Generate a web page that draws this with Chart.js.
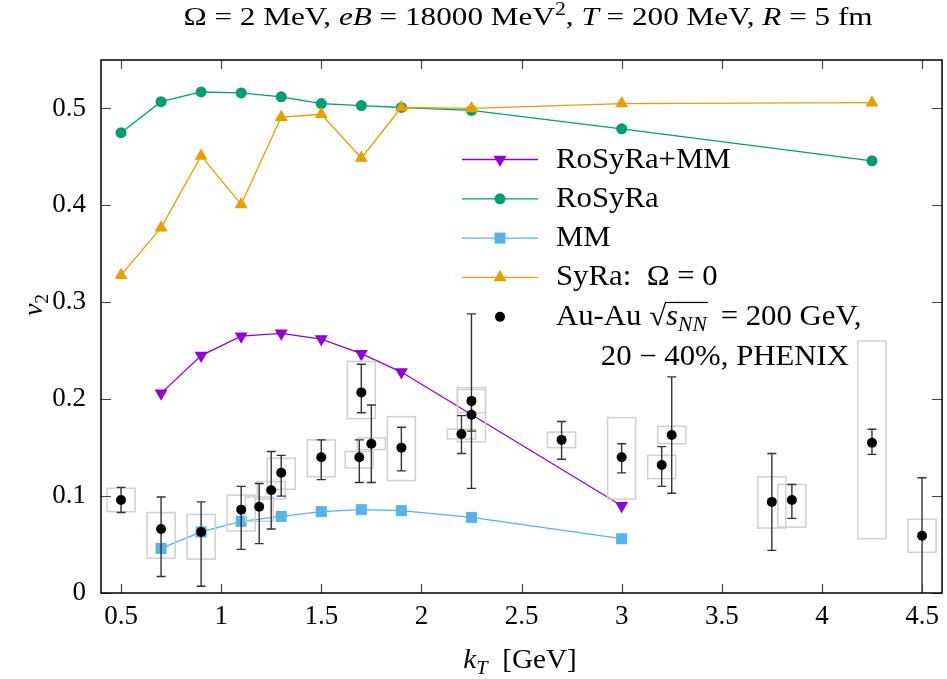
<!DOCTYPE html>
<html>
<head>
<meta charset="utf-8">
<script src="https://cdn.jsdelivr.net/npm/chart.js@4"></script>
<style>
  html, body { margin: 0; padding: 0; background: #fff; }
  #wrap { width: 947px; height: 679px; }
</style>
</head>
<body>
<div id="wrap"><canvas id="v2Chart" width="947" height="679"></canvas></div>
<script>
// model curves (kT in GeV)
const rosyraMmX = [0.7, 0.9, 1.1, 1.3, 1.5, 1.7, 1.9, 3.0];
const rosyraMmV2 = [0.206, 0.245, 0.265, 0.268, 0.262, 0.247, 0.228, 0.090];

const rosyraX = [0.5, 0.7, 0.9, 1.1, 1.3, 1.5, 1.7, 1.9, 2.25, 3.0, 4.25];
const rosyraV2 = [0.475, 0.507, 0.517, 0.516, 0.512, 0.505, 0.503, 0.501, 0.498, 0.479, 0.446];

const mmX = [0.7, 0.9, 1.1, 1.3, 1.5, 1.7, 1.9, 2.25, 3.0];
const mmV2 = [0.046, 0.063, 0.074, 0.079, 0.084, 0.086, 0.085, 0.078, 0.056];

const syraX = [0.5, 0.7, 0.9, 1.1, 1.3, 1.5, 1.7, 1.9, 2.25, 3.0, 4.25];
const syraV2 = [0.328, 0.377, 0.451, 0.401, 0.491, 0.494, 0.449, 0.501, 0.500, 0.505, 0.506];

// PHENIX Au-Au 20-40% data: value, stat error bounds, systematic bounds
const phenixX    = [0.5, 0.7, 0.9, 1.1, 1.19, 1.25, 1.3, 1.5, 1.69, 1.7, 1.75, 1.9, 2.2, 2.25, 2.25, 2.7, 3.0, 3.2, 3.25, 3.75, 3.85, 4.25, 4.5];
const phenixV2   = [0.096, 0.066, 0.063, 0.086, 0.089, 0.106, 0.124, 0.140, 0.140, 0.207, 0.154, 0.150, 0.164, 0.198, 0.184, 0.158, 0.140, 0.132, 0.163, 0.094, 0.096, 0.155, 0.059];
const phenixStatLo = [0.083, 0.017, 0.007, 0.045, 0.051, 0.066, 0.100, 0.117, 0.114, 0.186, 0.114, 0.126, 0.144, 0.108, 0.167, 0.138, 0.124, 0.110, 0.103, 0.044, 0.077, 0.143, -0.001];
const phenixStatHi = [0.109, 0.099, 0.094, 0.110, 0.113, 0.146, 0.142, 0.158, 0.158, 0.236, 0.194, 0.171, 0.183, 0.288, 0.201, 0.177, 0.154, 0.151, 0.223, 0.144, 0.112, 0.169, 0.119];
const phenixSysLo = [0.084, 0.036, 0.035, 0.064, 0.074, 0.097, 0.107, 0.120, 0.129, 0.180, 0.148, 0.116, 0.159, 0.186, 0.156, 0.150, 0.097, 0.118, 0.154, 0.067, 0.068, 0.056, 0.042];
const phenixSysHi = [0.108, 0.083, 0.081, 0.101, 0.099, 0.115, 0.139, 0.158, 0.146, 0.239, 0.160, 0.182, 0.169, 0.212, 0.210, 0.166, 0.181, 0.142, 0.172, 0.120, 0.112, 0.260, 0.076];
const sysHalfWidth = 0.07; // kT half width of the systematic boxes

const xTicks = [0.5, 1, 1.5, 2, 2.5, 3, 3.5, 4, 4.5];
const xTickLabels = ['0.5', '1', '1.5', '2', '2.5', '3', '3.5', '4', '4.5'];
const yTicks = [0, 0.1, 0.2, 0.3, 0.4, 0.5];
const yTickLabels = ['0', '0.1', '0.2', '0.3', '0.4', '0.5'];

const SERIF = '"Liberation Serif", "DejaVu Serif", serif';

function pts(xs, ys) {
  return xs.map((x, i) => ({ x: x, y: ys[i] }));
}

// draw text made of runs: {t, it, sub, sup, over}; stretch widens it like the TeX font
function richWidth(ctx, runs, size) {
  let w = 0;
  runs.forEach(r => {
    const s = (r.sub || r.sup) ? size * 0.7 : size;
    ctx.font = (r.it ? 'italic ' : '') + s + 'px ' + SERIF;
    w += ctx.measureText(r.t).width;
  });
  return w;
}
function drawRich(ctx, runs, x, y, size, align, stretch) {
  stretch = stretch || 1;
  const w = richWidth(ctx, runs, size) * stretch;
  const x0 = align === 'center' ? x - w / 2 : (align === 'right' ? x - w : x);
  ctx.save();
  ctx.translate(x0, y);
  ctx.scale(stretch, 1);
  let cx = 0;
  ctx.textAlign = 'left';
  ctx.textBaseline = 'alphabetic';
  ctx.fillStyle = '#000';
  runs.forEach(r => {
    const s = (r.sub || r.sup) ? size * 0.7 : size;
    ctx.font = (r.it ? 'italic ' : '') + s + 'px ' + SERIF;
    let dy = 0;
    if (r.sub) dy = size * 0.22;
    if (r.sup) dy = -size * 0.4;
    ctx.fillText(r.t, cx, dy);
    const rw = ctx.measureText(r.t).width;
    if (r.over) {
      ctx.strokeStyle = '#000';
      ctx.lineWidth = 1.2;
      ctx.beginPath();
      ctx.moveTo(cx - 1, -size * 0.78);
      ctx.lineTo(cx + rw + 1, -size * 0.78);
      ctx.stroke();
    }
    cx += rw;
  });
  ctx.restore();
}

function drawMarker(ctx, style, x, y, r, color) {
  ctx.save();
  ctx.fillStyle = color;
  ctx.beginPath();
  if (style === 'circle') {
    ctx.arc(x, y, r, 0, Math.PI * 2);
  } else if (style === 'rect') {
    const s = r * Math.SQRT1_2;
    ctx.rect(x - s, y - s, 2 * s, 2 * s);
  } else {
    const dir = style === 'triangleDown' ? -1 : 1;
    for (let k = 0; k < 3; k++) {
      const a = k * 2 * Math.PI / 3;
      const px = x + Math.sin(a) * r;
      const py = y - dir * Math.cos(a) * r;
      if (k === 0) ctx.moveTo(px, py); else ctx.lineTo(px, py);
    }
    ctx.closePath();
  }
  ctx.fill();
  ctx.restore();
}

const legendItems = [
  { label: [{ t: 'RoSyRa+MM' }], color: '#9400d3', marker: 'triangleDown', r: 7.5, line: true },
  { label: [{ t: 'RoSyRa' }], color: '#009e73', marker: 'circle', r: 5.5, line: true },
  { label: [{ t: 'MM' }], color: '#56b4e9', marker: 'rect', r: 7.8, line: true },
  { label: [{ t: 'SyRa:  Ω = 0' }], color: '#e69f00', marker: 'triangle', r: 7.5, line: true },
  { label: [{ t: 'Au-Au ' }, { t: '√' }, { t: 's', it: true, over: true }, { t: 'NN', it: true, sub: true, over: true }, { t: ' \u2009= 200 GeV,' }], color: '#000', marker: 'circle', r: 5, line: false }
];

const phenixExtras = {
  id: 'phenixExtras',
  beforeDatasetDraw(chart, args) {
    if (chart.data.datasets[args.index].label !== 'PHENIX') return;
    const ctx = chart.ctx, xs = chart.scales.x, ys = chart.scales.y, area = chart.chartArea;
    ctx.save();
    ctx.beginPath();
    ctx.rect(area.left, area.top, area.right - area.left, area.bottom - area.top);
    ctx.clip();
    // systematic boxes
    ctx.strokeStyle = '#cfcfcf';
    ctx.lineWidth = 1.5;
    phenixX.forEach((x, i) => {
      const x0 = xs.getPixelForValue(x - sysHalfWidth);
      const x1 = xs.getPixelForValue(x + sysHalfWidth);
      const y0 = ys.getPixelForValue(phenixSysHi[i]);
      const y1 = ys.getPixelForValue(phenixSysLo[i]);
      ctx.strokeRect(x0, y0, x1 - x0, y1 - y0);
    });
    // statistical error bars
    ctx.strokeStyle = '#333';
    ctx.lineWidth = 1.4;
    phenixX.forEach((x, i) => {
      const px = xs.getPixelForValue(x);
      const yt = ys.getPixelForValue(phenixStatHi[i]);
      const yb = ys.getPixelForValue(phenixStatLo[i]);
      ctx.beginPath();
      ctx.moveTo(px, yt); ctx.lineTo(px, yb);
      ctx.moveTo(px - 4.5, yt); ctx.lineTo(px + 4.5, yt);
      ctx.moveTo(px - 4.5, yb); ctx.lineTo(px + 4.5, yb);
      ctx.stroke();
    });
    ctx.restore();
  }
};

const frameAndText = {
  id: 'frameAndText',
  afterDraw(chart) {
    const ctx = chart.ctx, a = chart.chartArea, xs = chart.scales.x, ys = chart.scales.y;
    ctx.save();
    // inward ticks
    ctx.strokeStyle = '#444';
    ctx.lineWidth = 1.2;
    ctx.beginPath();
    xTicks.forEach(v => {
      const px = Math.round(xs.getPixelForValue(v)) + 0.5;
      ctx.moveTo(px, a.bottom); ctx.lineTo(px, a.bottom - 9);
      ctx.moveTo(px, a.top); ctx.lineTo(px, a.top + 9);
    });
    yTicks.forEach(v => {
      const py = Math.round(ys.getPixelForValue(v)) + 0.5;
      ctx.moveTo(a.left, py); ctx.lineTo(a.left + 10, py);
      ctx.moveTo(a.right, py); ctx.lineTo(a.right - 10, py);
    });
    ctx.stroke();
    // frame
    ctx.strokeStyle = '#000';
    ctx.lineWidth = 1.5;
    ctx.strokeRect(a.left, a.top, a.right - a.left, a.bottom - a.top);

    // title
    drawRich(ctx, [
      { t: 'Ω = 2 MeV, ' }, { t: 'eB', it: true }, { t: ' = 18000 MeV' }, { t: '2', sup: true },
      { t: ', ' }, { t: 'T', it: true }, { t: ' = 200 MeV, ' }, { t: 'R', it: true }, { t: ' = 5 fm' }
    ], 528, 25, 26, 'center', 1.2);

    // axis titles
    drawRich(ctx, [{ t: 'k', it: true }, { t: 'T', it: true, sub: true }, { t: '  [GeV]' }], 520, 668, 27, 'center', 1.08);
    ctx.save();
    ctx.translate(42, 305);
    ctx.rotate(-Math.PI / 2);
    drawRich(ctx, [{ t: 'v', it: true }, { t: '2', sub: true }], 0, 0, 28, 'center');
    ctx.restore();

    // legend
    const lineX0 = 462, lineX1 = 538, markX = 500, textX = 556;
    legendItems.forEach((it, i) => {
      const cy = 159.5 + i * 39.3;
      if (it.line) {
        ctx.strokeStyle = it.color;
        ctx.lineWidth = 1.3;
        ctx.beginPath();
        ctx.moveTo(lineX0, cy); ctx.lineTo(lineX1, cy);
        ctx.stroke();
      }
      drawMarker(ctx, it.marker, markX, cy, it.r, it.color);
      drawRich(ctx, it.label, textX, cy + 8, 28.5, 'left', 1.08);
    });
    drawRich(ctx, [{ t: '20 − 40%, PHENIX' }], 849, 364.5, 28.5, 'right', 1.08);
    ctx.restore();
  }
};

new Chart(document.getElementById('v2Chart'), {
  type: 'scatter',
  data: {
    datasets: [
      {
        label: 'PHENIX',
        data: pts(phenixX, phenixV2),
        showLine: false,
        pointStyle: 'circle',
        pointRadius: 5,
        pointBackgroundColor: '#000',
        pointBorderWidth: 0,
        order: 0
      },
      {
        label: 'RoSyRa+MM',
        data: pts(rosyraMmX, rosyraMmV2),
        showLine: true,
        borderColor: '#9400d3',
        borderWidth: 1.3,
        pointStyle: 'triangle',
        rotation: 180,
        pointRadius: 7.5,
        pointBackgroundColor: '#9400d3',
        pointBorderWidth: 0,
        order: 1
      },
      {
        label: 'RoSyRa',
        data: pts(rosyraX, rosyraV2),
        showLine: true,
        borderColor: '#009e73',
        borderWidth: 1.3,
        pointStyle: 'circle',
        pointRadius: 5.5,
        pointBackgroundColor: '#009e73',
        pointBorderWidth: 0,
        order: 3
      },
      {
        label: 'MM',
        data: pts(mmX, mmV2),
        showLine: true,
        borderColor: '#56b4e9',
        borderWidth: 1.3,
        pointStyle: 'rect',
        pointRadius: 7.8,
        pointBackgroundColor: '#56b4e9',
        pointBorderWidth: 0,
        order: 2
      },
      {
        label: 'SyRa: Ω = 0',
        data: pts(syraX, syraV2),
        showLine: true,
        borderColor: '#e69f00',
        borderWidth: 1.3,
        pointStyle: 'triangle',
        pointRadius: 7.5,
        pointBackgroundColor: '#e69f00',
        pointBorderWidth: 0,
        order: 2
      }
    ]
  },
  options: {
    responsive: false,
    animation: false,
    devicePixelRatio: 1,
    layout: { autoPadding: false, padding: { top: 60, right: 4, left: 0, bottom: 0 } },
    plugins: {
      legend: { display: false },
      title: { display: false },
      tooltip: { enabled: false }
    },
    events: [],
    scales: {
      x: {
        type: 'linear',
        min: 0.4,
        max: 4.6,
        grid: { display: false, drawTicks: false },
        border: { display: false },
        afterBuildTicks: s => { s.ticks = xTicks.map(v => ({ value: v })); },
        afterFit: s => { s.height = 86; },
        ticks: {
          padding: 8,
          color: '#000',
          font: { family: SERIF, size: 27 },
          maxRotation: 0,
          callback: (v, i) => xTickLabels[i]
        }
      },
      y: {
        type: 'linear',
        min: 0,
        max: 0.55,
        grid: { display: false, drawTicks: false },
        border: { display: false },
        afterBuildTicks: s => { s.ticks = yTicks.map(v => ({ value: v })); },
        afterFit: s => { s.width = 101; },
        ticks: {
          padding: 15,
          color: '#000',
          font: { family: SERIF, size: 27 },
          callback: (v, i) => yTickLabels[i]
        }
      }
    }
  },
  plugins: [phenixExtras, frameAndText]
});
</script>
</body>
</html>
